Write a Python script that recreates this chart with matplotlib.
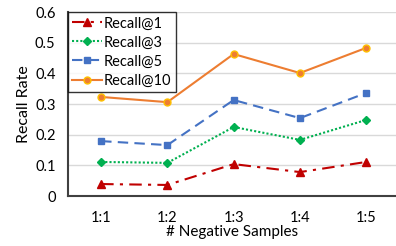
import matplotlib
matplotlib.use("Agg")
import matplotlib.pyplot as plt

categories = ["1:1", "1:2", "1:3", "1:4", "1:5"]
recall1 = [0.039, 0.036, 0.104, 0.078, 0.111]
recall3 = [0.111, 0.108, 0.225, 0.183, 0.248]
recall5 = [0.179, 0.166, 0.313, 0.254, 0.336]
recall10 = [0.323, 0.306, 0.463, 0.401, 0.483]
yticks = [0, 0.1, 0.2, 0.3, 0.4, 0.5, 0.6]
ytick_labels = ["0", "0.1", "0.2", "0.3", "0.4", "0.5", "0.6"]

plt.rcParams['font.family'] = ['Lato', 'DejaVu Sans']

fig = plt.figure(figsize=(3.96, 2.46), dpi=100)
ax = fig.add_axes([68/396, 1 - 196/246, 1 - 68/396, 184/246])

x = list(range(len(categories)))
ax.plot(x, recall1, color="#C00000", linestyle=(0, (6, 3, 1.5, 3)), lw=1.5,
        marker="^", ms=5.5, label="Recall@1")
ax.plot(x, recall3, color="#00B050", linestyle=(0, (1, 1)), lw=1.5,
        marker="D", ms=4, label="Recall@3")
ax.plot(x, recall5, color="#4472C4", linestyle=(0, (5, 3)), lw=1.5,
        marker="s", ms=5, label="Recall@5")
ax.plot(x, recall10, color="#ED7D31", linestyle="-", lw=1.5,
        marker="o", ms=5, markeredgecolor="#FFC000", markeredgewidth=1,
        label="Recall@10")

ax.set_xlim(-0.5, 4.45)
ax.set_ylim(0, 0.6)
ax.set_yticks(yticks)
ax.set_yticklabels(ytick_labels, fontsize=10.5)
ax.set_xticks(x)
ax.set_xticklabels(categories, fontsize=10.5)
ax.tick_params(axis='y', length=0, pad=9)
ax.tick_params(axis='x', length=0, pad=11)
ax.yaxis.grid(True, color="#D9D9D9", lw=1)
ax.set_axisbelow(True)
for s in ["top", "right"]:
    ax.spines[s].set_visible(False)
for s in ["left", "bottom"]:
    ax.spines[s].set_color("#404040")
    ax.spines[s].set_linewidth(1.5)

ax.set_ylabel("Recall Rate", fontsize=11.5, labelpad=3)
ax.set_xlabel("# Negative Samples", fontsize=11, labelpad=0)

leg = ax.legend(loc="upper left", fontsize=10.5, frameon=True, fancybox=False,
                borderaxespad=0, handlelength=2.0, handletextpad=0.15,
                labelspacing=0.35, borderpad=0.3)
leg.get_frame().set_edgecolor("black")
leg.get_frame().set_linewidth(1)

fig.savefig("out.png", dpi=100)
